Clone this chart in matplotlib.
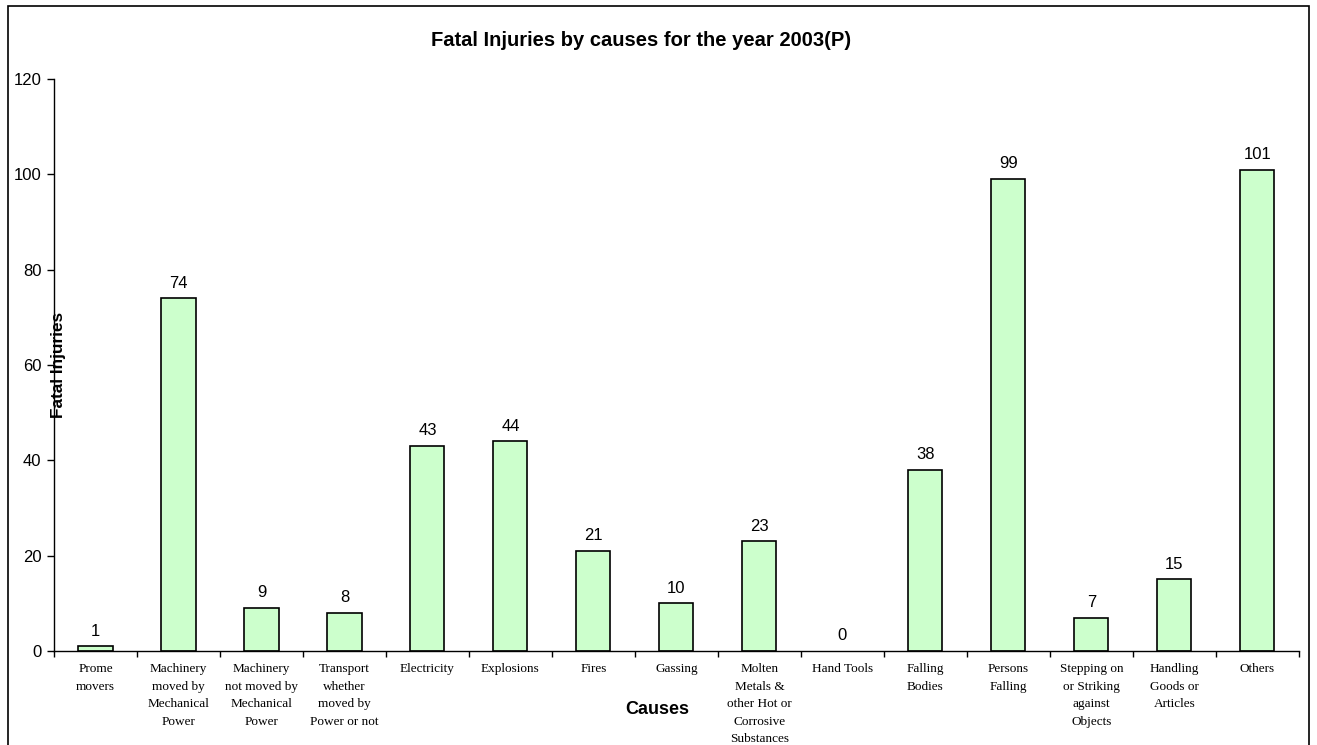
"""
    Fatal injuries by causes, 2003 (P) - bar chart.
"""

import matplotlib
matplotlib.use("Agg")
import matplotlib.pyplot as plt
import numpy as np
from matplotlib.patches import Rectangle

# data
causes = ["Prome\nmovers",
          "Machinery\nmoved by\nMechanical\nPower",
          "Machinery\nnot moved by\nMechanical\nPower",
          "Transport\nwhether\nmoved by\nPower or not",
          "Electricity",
          "Explosions",
          "Fires",
          "Gassing",
          "Molten\nMetals &\nother Hot or\nCorrosive\nSubstances",
          "Hand Tools",
          "Falling\nBodies",
          "Persons\nFalling",
          "Stepping on\nor Striking\nagainst\nObjects",
          "Handling\nGoods or\nArticles",
          "Others"]
injuries = [1, 74, 9, 8, 43, 44, 21, 10, 23, 0, 38, 99, 7, 15, 101]
y_ticks = [0, 20, 40, 60, 80, 100, 120]

fig = plt.figure(figsize=(13.17, 7.45), dpi=100)
ax = fig.add_axes([0.041, 0.1262, 0.9453, 0.7678])

x = np.arange(len(causes))
# no outline for zero-height bars (Excel draws nothing there)
edges = ["black" if v > 0 else "none" for v in injuries]
ax.bar(x, injuries, width=0.41, color="#CCFFCC", edgecolor=edges, linewidth=1.2)

# value labels above bars
for xi, v in zip(x, injuries):
    ax.text(xi, v + 1.6, str(v), ha="center", va="bottom", fontsize=12,
            family="Liberation Sans")

ax.set_xlim(-0.5, len(causes) - 0.5)
ax.set_ylim(0, 120)
ax.set_yticks(y_ticks)
ax.set_yticklabels([str(t) for t in y_ticks], fontsize=12, family="Liberation Sans")

# category labels at centers, tick marks at boundaries
ax.set_xticks(x)
ax.set_xticklabels(causes, fontsize=9.5, family="Liberation Serif", linespacing=1.6,
                   va="top")
ax.tick_params(axis="x", which="major", length=0, pad=9)
ax.set_xticks(np.arange(-0.5, len(causes)), minor=True)
ax.tick_params(axis="x", which="minor", length=4, direction="out", width=1)
ax.tick_params(axis="y", length=5, width=1, direction="out", pad=4)

for s in ["top", "right"]:
    ax.spines[s].set_visible(False)
for s in ["left", "bottom"]:
    ax.spines[s].set_linewidth(1)

fig.text(0.487, 0.946, "Fatal Injuries by causes for the year 2003(P)",
         ha="center", va="center", fontsize=14.5, fontweight="bold",
         family="Liberation Sans")
fig.text(0.0445, 0.51, "Fatal Injuries", rotation=90, ha="center", va="center",
         fontsize=12.3, fontweight="bold", family="Liberation Sans")
fig.text(0.499, 0.047, "Causes", ha="center", va="center", fontsize=13,
         fontweight="bold", family="Liberation Sans")

# outer chart border (bottom edge cut off)
fig.patches.append(Rectangle((8 / 1317, -0.05), 1301 / 1317, 1.05 - 6 / 745,
                             transform=fig.transFigure, fill=False,
                             edgecolor="black", linewidth=1.2, clip_on=False))

fig.savefig("out.png", dpi=100)
